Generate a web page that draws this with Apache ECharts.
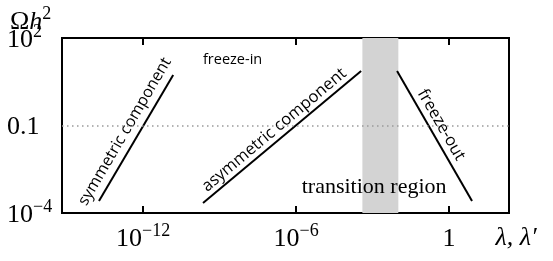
<!DOCTYPE html>
<html><head><meta charset="utf-8">
<script src="https://cdn.jsdelivr.net/npm/echarts@6/dist/echarts.min.js"></script>
<style>html,body{margin:0;padding:0;background:#fff}#c{width:553px;height:261px}</style>
</head><body><div id="c"></div>
<script>
// All coordinates are log10 exponents (the axes are logarithmic in value)
const xTicks = [-12, -6, 0];
const xTickLabels = ['10^-12', '10^-6', '1'];
const yTicks = [-4, -1, 2];
const yTickLabels = ['10^-4', '0.1', '10^2'];
const xRange = [-15.18, 2.35];
const yRange = [-4, 2];

const symmetricX = [-13.73, -10.82];
const symmetricY = [-3.59, 0.73];
const asymmetricX = [-9.65, -3.45];
const asymmetricY = [-3.66, 0.87];
const freezeOutX = [-2.04, 0.90];
const freezeOutY = [0.87, -3.59];
const transitionBand = [-3.40, -1.99];
const referenceLevel = -1;

const annotationTexts = ['symmetric component', 'asymmetric component', 'freeze-out', 'freeze-in', 'transition region'];
const annotationX = [-12.71, -6.86, -0.31, -8.49, -2.94];
const annotationY = [-1.21, -1.155, -0.98, 1.245, -3.11];
const annotationAngle = [59.6, 39.9, -60, 0, 0];

const SERIF = '"Liberation Serif", "DejaVu Serif", serif';
const SANS = '"Open Sans", "Noto Sans", sans-serif';
const annotationFont = [SANS, SANS, SANS, SANS, SERIF];
const annotationSize = [16, 16.5, 16.5, 14.5, 22];

function fmt(s) {
  if (s.indexOf('10^') === 0) return '{b|10}{s|' + s.slice(3).replace('-', '\u2212') + '}';
  return '{b|' + s + '}';
}
const tickRich = {
  b: { fontFamily: SERIF, fontSize: 26, lineHeight: 30, verticalAlign: 'bottom', color: '#000' },
  s: { fontFamily: SERIF, fontSize: 18, lineHeight: 18, color: '#000', verticalAlign: 'top' }
};
function pairs(xs, ys) { return xs.map((x, i) => [x, ys[i]]); }

const chart = echarts.init(document.getElementById('c'), null, { renderer: 'canvas' });
const lineStyle = { color: '#000', width: 2 };

chart.setOption({
  animation: false,
  grid: { left: 62, top: 38, width: 447, height: 175, show: true, borderColor: '#000', borderWidth: 2,
    backgroundColor: 'transparent', containLabel: false, outerBoundsMode: 'none' },
  graphic: [{
    type: 'text', left: 10, top: 5, silent: true,
    style: { text: '{o|\u03a9}{h|h}{s|2}', rich: {
      o: { fontFamily: SERIF, fontSize: 26, lineHeight: 30, verticalAlign: 'bottom', fill: '#000', color: '#000' },
      h: { fontFamily: SERIF, fontSize: 26, lineHeight: 30, verticalAlign: 'bottom', fontStyle: 'italic', fill: '#000', color: '#000' },
      s: { fontFamily: SERIF, fontSize: 18, lineHeight: 18, verticalAlign: 'top', fill: '#000', color: '#000' } } }
  }],
  xAxis: [{
    type: 'value', min: xRange[0], max: xRange[1], position: 'bottom',
    splitLine: { show: false }, axisLine: { show: false, onZero: false },
    axisTick: { show: true, inside: true, length: 7, lineStyle: { color: '#000', width: 2 }, customValues: xTicks },
    axisLabel: { customValues: xTicks, margin: 9, formatter: v => fmt(xTickLabels[xTicks.indexOf(v)]), rich: tickRich },
    name: '{l|\u03bb, \u03bb\u2032}', nameLocation: 'end', nameGap: 7,
    nameTextStyle: { align: 'center', verticalAlign: 'top', padding: [12, 0, 0, 0], rich: { l: { fontFamily: SERIF, fontSize: 26, fontStyle: 'italic', color: '#000' } } }
  }, {
    type: 'value', min: xRange[0], max: xRange[1], position: 'top',
    splitLine: { show: false }, axisLine: { show: false, onZero: false },
    axisTick: { show: true, inside: true, length: 7, lineStyle: { color: '#000', width: 2 }, customValues: xTicks },
    axisLabel: { show: false }
  }],
  yAxis: {
    type: 'value', min: yRange[0], max: yRange[1],
    splitLine: { show: false }, axisLine: { show: false, onZero: false }, axisTick: { show: false },
    axisLabel: { customValues: yTicks, align: 'left', margin: 55,
      formatter: v => fmt(yTickLabels[yTicks.indexOf(v)]), rich: tickRich }
  },
  series: [
    { type: 'line', data: [], z: 1, markLine: { silent: true, symbol: 'none', label: { show: false },
        lineStyle: { color: '#9a9a9a', width: 1.5, type: [1.5, 3.5] }, data: [{ yAxis: referenceLevel }] } },
    { type: 'line', data: [], z: 2, markArea: { silent: true, itemStyle: { color: '#d3d3d3' },
        data: [[{ xAxis: transitionBand[0] }, { xAxis: transitionBand[1] }]] } },
    { type: 'line', data: pairs(symmetricX, symmetricY), showSymbol: false, lineStyle, z: 3 },
    { type: 'line', data: pairs(asymmetricX, asymmetricY), showSymbol: false, lineStyle, z: 3 },
    { type: 'line', data: pairs(freezeOutX, freezeOutY), showSymbol: false, lineStyle, z: 3 },
    { type: 'scatter', z: 4, symbolSize: 2, itemStyle: { color: 'rgba(0,0,0,0)' },
      data: annotationTexts.map((t, i) => ({
        value: [annotationX[i], annotationY[i]],
        label: { show: true, position: 'inside', formatter: t, rotate: annotationAngle[i], color: '#000',
          opacity: 1, textBorderWidth: 0, fontWeight: i === 4 ? 'normal' : 500,
          fontFamily: annotationFont[i], fontSize: annotationSize[i] }
      })) }
  ]
});
</script></body></html>
